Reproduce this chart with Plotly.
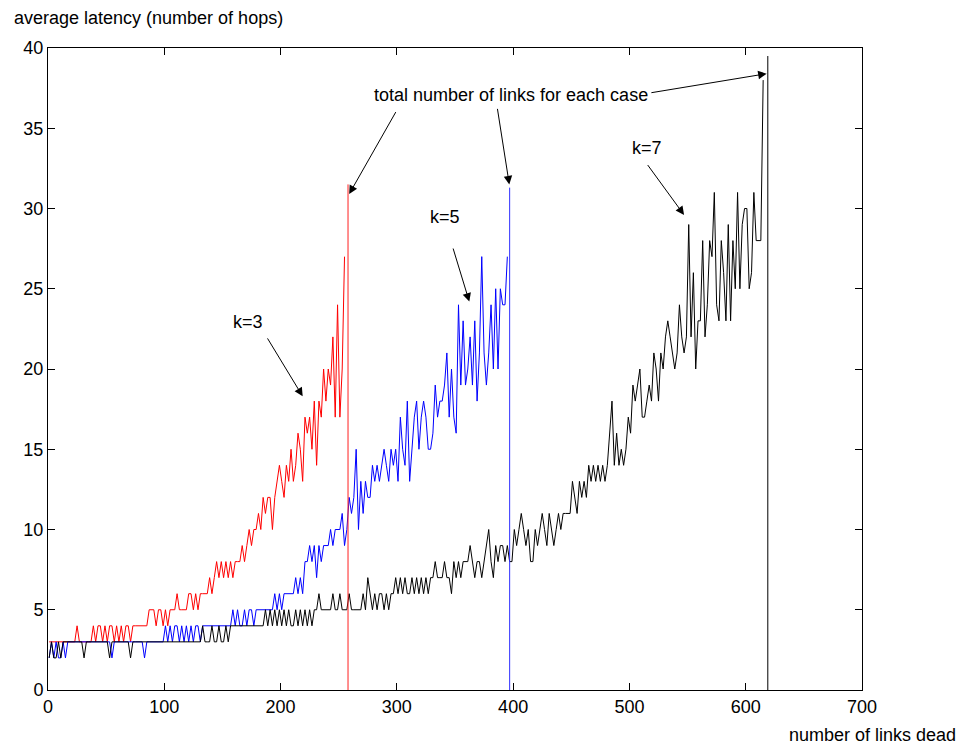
import numpy as np
import plotly.graph_objects as go

# ---- data ----
# average latency sampled at links-dead = 1, 3, 5, ...
k3_latency = [
    3, 3, 3, 3, 3, 3, 3, 3, 3, 3,
    3, 3, 4, 3, 3, 3, 3, 3, 3, 4,
    3, 4, 4, 3, 4, 3, 4, 4, 3, 4,
    3, 4, 3, 4, 4, 3, 4, 4, 4, 4,
    4, 4, 4, 5, 5, 5, 4, 5, 5, 4,
    5, 4, 5, 5, 5, 6, 5, 5, 5, 5,
    6, 6, 5, 6, 5, 6, 6, 6, 6, 7,
    6, 7, 8, 7, 8, 7, 8, 7, 8, 7,
    8, 8, 8, 9, 8, 9, 10, 9, 10, 10,
    11, 10, 12, 11, 12, 12, 10, 12, 13, 14,
    13, 12, 14, 13, 15, 13, 14, 16, 15, 13,
    17, 16, 17, 15, 18, 14, 18, 17, 20, 18,
    20, 19, 22, 17, 24, 17, 20, 27,
]

k5_latency = [
    2, 3, 2, 3, 2, 2, 3, 2, 3, 3,
    3, 3, 3, 3, 3, 3, 3, 3, 3, 3,
    3, 3, 3, 3, 3, 3, 3, 2, 3, 3,
    3, 3, 3, 3, 3, 3, 3, 3, 3, 3,
    3, 2, 3, 3, 3, 3, 3, 3, 3, 3,
    4, 3, 4, 3, 4, 4, 3, 4, 3, 4,
    3, 4, 3, 4, 4, 3, 4, 4, 4, 4,
    4, 4, 4, 4, 4, 4, 4, 4, 4, 5,
    4, 5, 4, 4, 5, 4, 5, 5, 4, 5,
    5, 5, 5, 5, 5, 5, 5, 6, 5, 6,
    5, 6, 6, 6, 6, 6, 7, 6, 7, 6,
    8, 8, 9, 8, 9, 7, 9, 8, 9, 9,
    9, 10, 9, 10, 10, 10, 11, 9, 10, 12,
    11, 12, 15, 10, 13, 11, 13, 12, 12, 14,
    13, 14, 13, 14, 15, 14, 13, 15, 14, 15,
    13, 17, 15, 14, 18, 13, 15, 17, 18, 15,
    17, 18, 17, 15, 15, 16, 19, 17, 18, 18,
    19, 21, 17, 20, 17, 16, 24, 19, 23, 19,
    20, 22, 19, 23, 18, 21, 27, 21, 19, 21,
    24, 20, 25, 20, 25, 24, 24, 27,
]

k7_latency = [
    2, 3, 2, 2, 3, 2, 3, 3, 3, 3,
    3, 3, 3, 3, 3, 2, 3, 3, 3, 3,
    3, 3, 3, 3, 3, 3, 2, 3, 3, 3,
    3, 3, 3, 3, 3, 2, 3, 3, 3, 3,
    3, 3, 3, 3, 3, 3, 3, 3, 3, 3,
    3, 3, 3, 3, 3, 3, 3, 3, 3, 3,
    3, 3, 3, 3, 3, 3, 4, 3, 3, 3,
    4, 3, 3, 4, 3, 3, 4, 3, 4, 4,
    4, 4, 4, 4, 4, 4, 4, 4, 4, 4,
    4, 4, 4, 5, 4, 5, 4, 5, 4, 5,
    4, 5, 4, 5, 4, 4, 5, 4, 5, 4,
    5, 4, 5, 4, 5, 5, 6, 5, 5, 5,
    5, 5, 6, 5, 5, 6, 5, 5, 5, 6,
    5, 5, 5, 5, 5, 6, 5, 7, 6, 5,
    6, 5, 6, 6, 5, 6, 5, 6, 6, 7,
    6, 7, 6, 7, 6, 6, 7, 6, 7, 6,
    7, 6, 7, 6, 7, 7, 8, 7, 7, 7,
    8, 7, 7, 6, 8, 7, 8, 7, 8, 8,
    8, 9, 8, 7, 8, 8, 7, 8, 9, 10,
    8, 7, 9, 8, 9, 9, 8, 9, 8, 8,
    10, 9, 10, 11, 10, 9, 10, 8, 8, 10,
    9, 10, 11, 10, 9, 11, 10, 9, 10, 11,
    10, 11, 11, 11, 11, 13, 12, 11, 13, 12,
    13, 12, 14, 13, 14, 13, 14, 13, 14, 13,
    14, 16, 18, 14, 16, 14, 15, 14, 15, 17,
    16, 19, 18, 19, 20, 17, 17, 18, 19, 18,
    21, 20, 18, 21, 20, 22, 23, 22, 21, 20,
    21, 24, 22, 21, 22, 29, 22, 26, 20, 23,
    23, 28, 22, 24, 28, 27, 31, 24, 23, 28,
    26, 23, 29, 23, 28, 25, 31, 25, 29, 30,
    30, 25, 26, 31, 28, 28, 28, 38,
]

# total number of links for each case (vertical markers) and their heights
total_links = [258, 397, 619]
total_tops = [31.5, 31.3, 39.5]
series_colors = ["#ff0000", "#0000ff", "#000000"]
marker_colors = ["#ff2020", "#3030ff", "#000000"]

x_ticks = [0, 100, 200, 300, 400, 500, 600, 700]
y_ticks = [0, 5, 10, 15, 20, 25, 30, 35, 40]


def links_axis(vals):
    return np.arange(1, 2 * len(vals), 2)


FONT = "Liberation Sans, Arial, Helvetica, sans-serif"
FS = 18

fig = go.Figure()
for vals, col in zip([k3_latency, k5_latency, k7_latency], series_colors):
    fig.add_trace(go.Scatter(x=links_axis(vals), y=vals, mode="lines",
                             line=dict(color=col, width=1), showlegend=False,
                             hoverinfo="skip"))
for xv, top, col in zip(total_links, total_tops, marker_colors):
    fig.add_trace(go.Scatter(x=[xv, xv], y=[0, top], mode="lines",
                             line=dict(color=col, width=1), showlegend=False,
                             hoverinfo="skip"))

tfont = dict(size=FS, color="black", family=FONT)
anns = []
anns.append(dict(x=172, y=22.9, xref="x", yref="y", text="k=3", showarrow=False, font=tfont))
anns.append(dict(x=341, y=29.5, xref="x", yref="y", text="k=5", showarrow=False, font=tfont))
anns.append(dict(x=515, y=33.8, xref="x", yref="y", text="k=7", showarrow=False, font=tfont))
anns.append(dict(x=398.5, y=37.1, xref="x", yref="y",
                 text="total number of links for each case", showarrow=False, font=tfont))
# arrows: (tail x, tail y, tip x, tip y)
arrows = [
    (188, 22.0, 219, 18.3),
    (348, 27.6, 362.3, 24.2),
    (514.8, 32.8, 547, 29.6),
    (299.8, 36.1, 259, 30.9),
    (386.3, 36.3, 396.7, 31.5),
    (517.6, 37.2, 618, 38.4),
]
for tx, ty, hx, hy in arrows:
    anns.append(dict(x=hx, y=hy, ax=tx, ay=ty, xref="x", yref="y",
                     axref="x", ayref="y", text="", showarrow=True,
                     arrowhead=2, arrowsize=1.7, arrowwidth=1,
                     arrowcolor="black", standoff=0, startstandoff=0))
# axis labels in MATLAB-like positions
anns.append(dict(x=-0.0442, y=1.0467, xref="paper", yref="paper",
                 text="average latency (number of hops)", showarrow=False,
                 xanchor="left", yanchor="middle", font=tfont))
anns.append(dict(x=1.118, y=-0.070, xref="paper", yref="paper",
                 text="number of links dead", showarrow=False,
                 xanchor="right", yanchor="middle", font=tfont))

axis_common = dict(showgrid=False, zeroline=False, showline=True,
                   linecolor="black", linewidth=1, mirror="allticks",
                   ticks="inside", ticklen=7, tickcolor="black",
                   tickfont=dict(size=FS, color="black", family=FONT))

fig.update_layout(
    width=956, height=740,
    margin=dict(l=40, r=102, t=40, b=58),
    paper_bgcolor="white", plot_bgcolor="white",
    xaxis=dict(range=[0, 700], tickvals=x_ticks, **axis_common),
    yaxis=dict(range=[0, 40], tickvals=y_ticks, **axis_common),
    annotations=anns,
    font=dict(family=FONT),
)

fig.write_html("out.html")
